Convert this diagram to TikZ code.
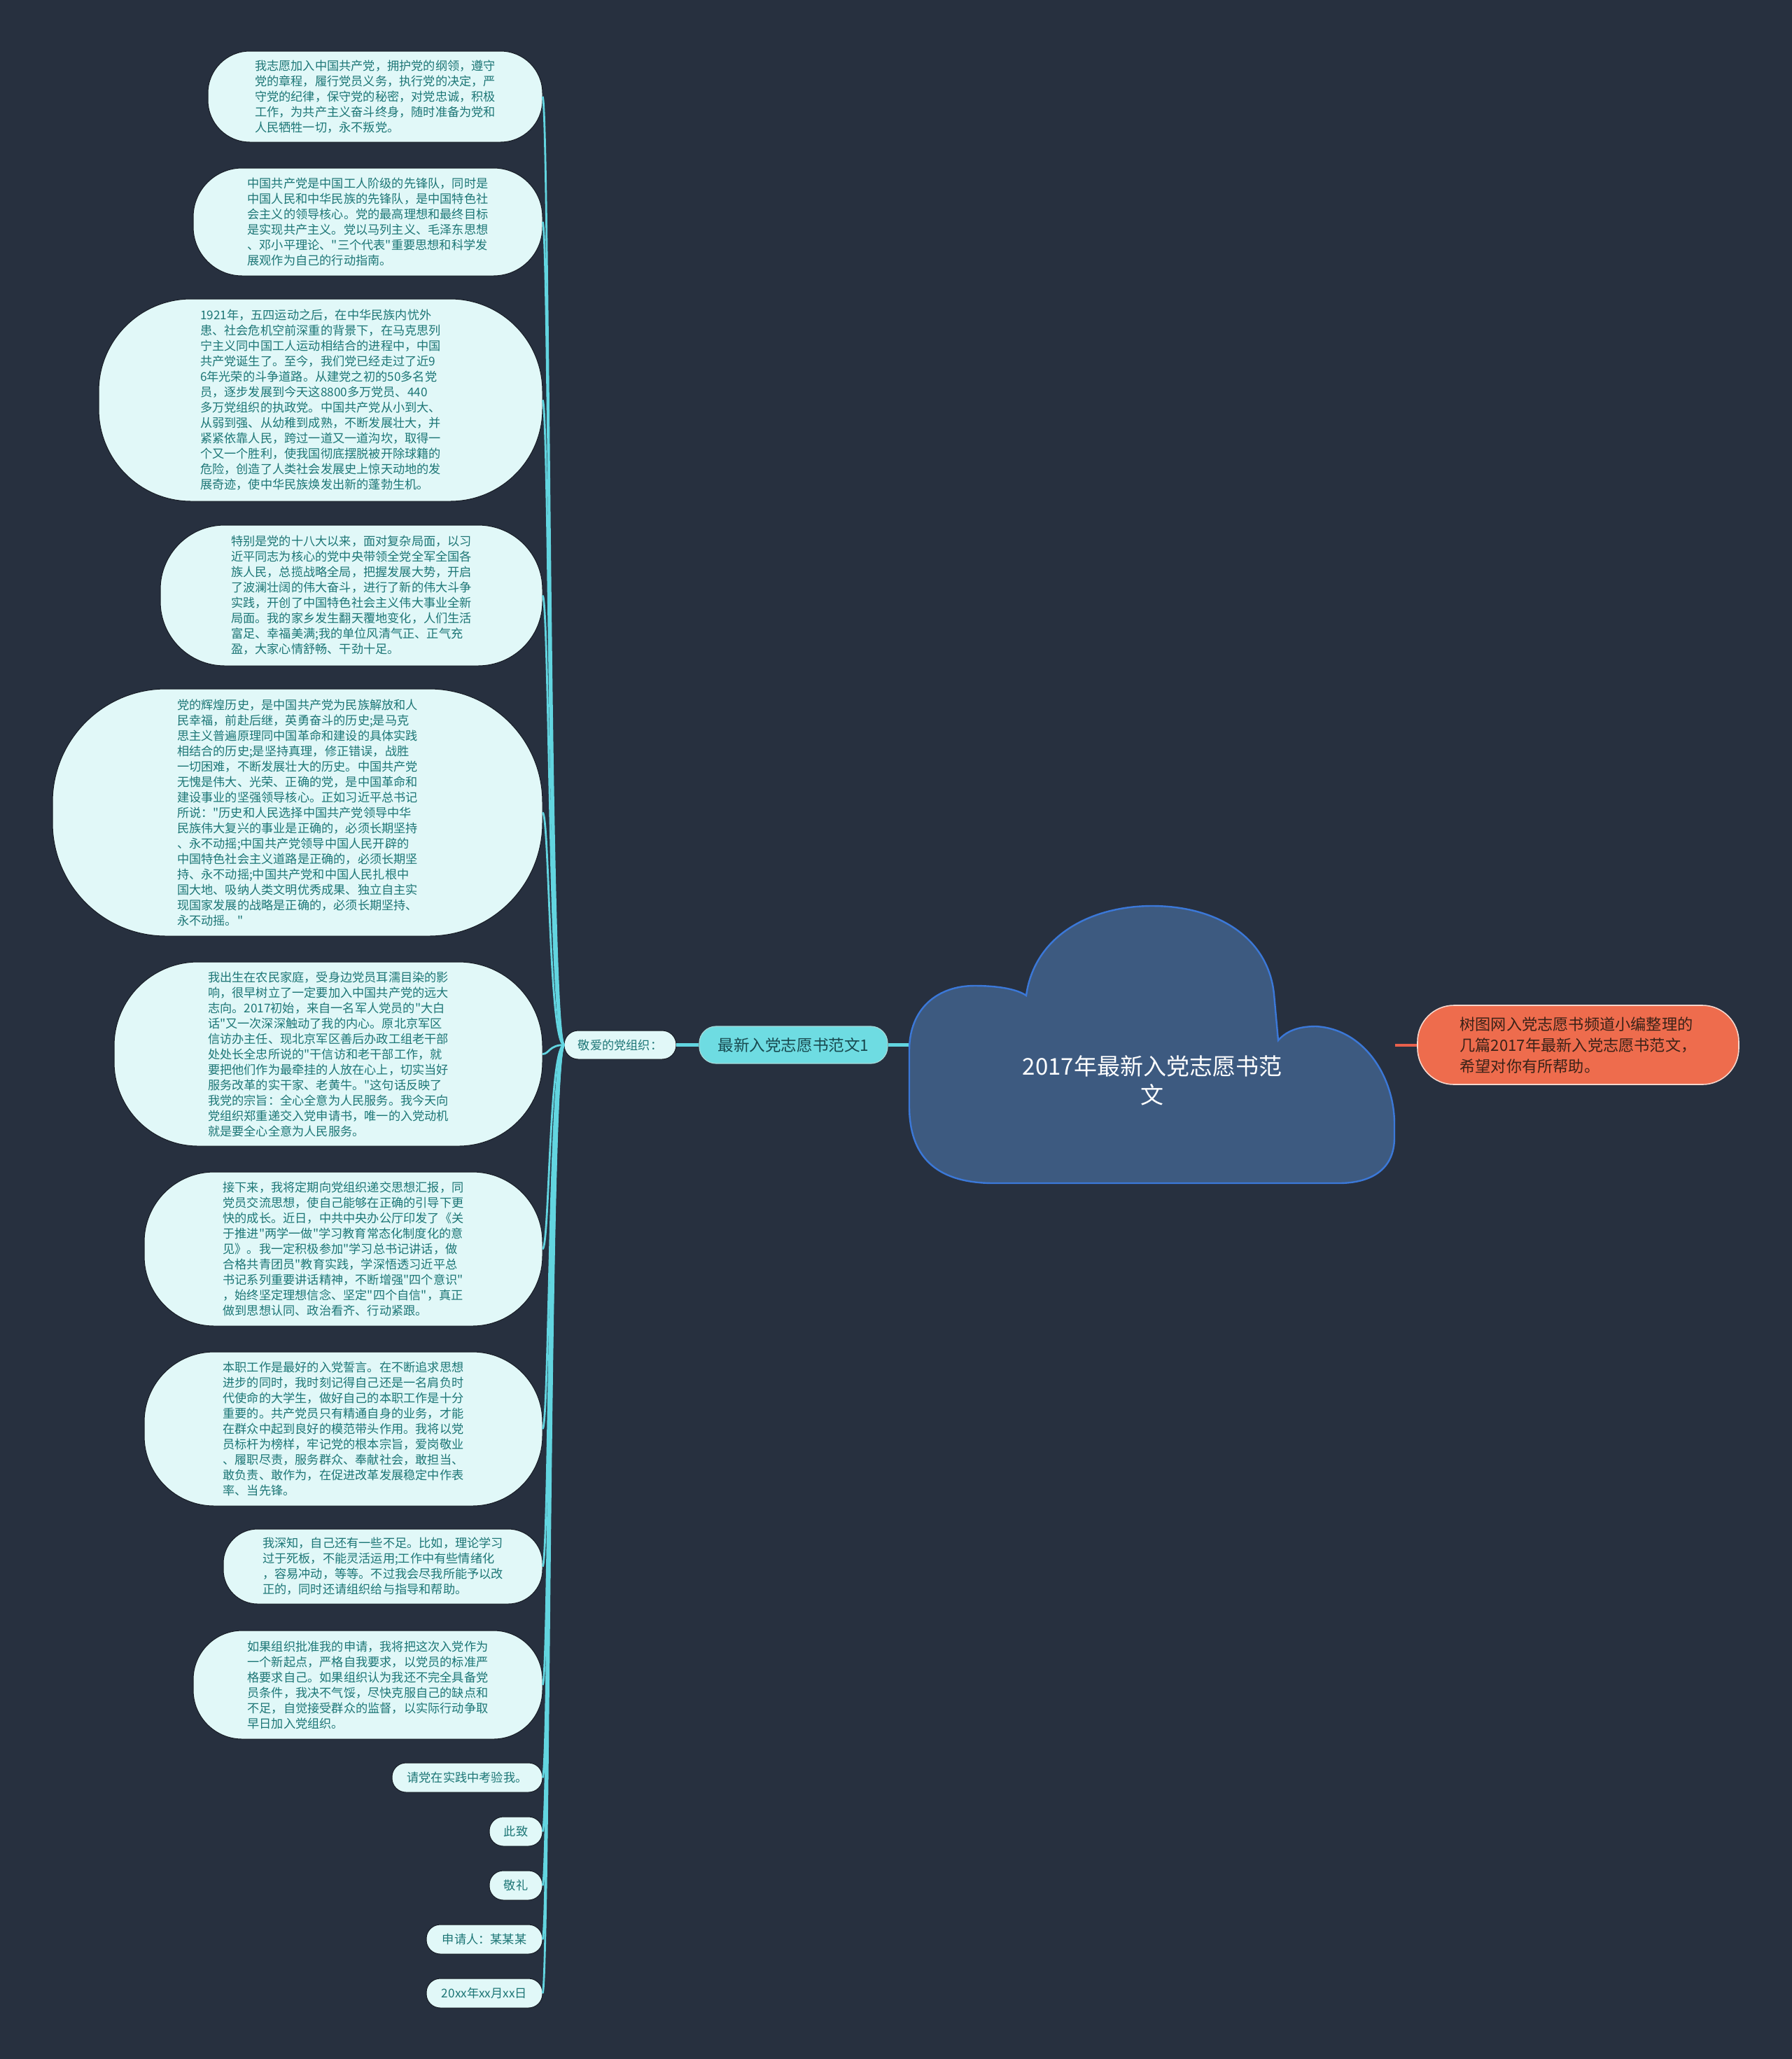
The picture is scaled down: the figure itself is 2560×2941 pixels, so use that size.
\documentclass[tikz,border=0pt]{standalone}
\usepackage{fontspec}
\setmainfont{Noto Sans CJK SC}[Ligatures=TeXOff]
\definecolor{bg}{HTML}{27303F}
\definecolor{leaffill}{HTML}{E1F8F8}
\definecolor{leaftext}{HTML}{1D7676}
\definecolor{leafline}{HTML}{161B24}
\definecolor{conncol}{HTML}{62D5E0}
\definecolor{mainfill}{HTML}{6EDCE2}
\definecolor{maintext}{HTML}{18494F}
\definecolor{cloudfill}{HTML}{3D5A80}
\definecolor{cloudline}{HTML}{3B78D8}
\definecolor{orfill}{HTML}{EE6C4D}
\definecolor{orline}{HTML}{F6D6CC}
\definecolor{ortext}{HTML}{3B2218}
\definecolor{orconn}{HTML}{E8604C}
\newcommand\leaffont{\fontsize{8.6pt}{11pt}\selectfont}
\tikzset{
  leaf/.style={draw=leafline, line width=0.5pt, fill=leaffill, text=leaftext,
    font=\leaffont, align=left, inner sep=0pt, outer sep=0pt, rounded corners=#1},
  conn/.style={draw=conncol, line width=1.4pt},
  thickconn/.style={draw=conncol, line width=2.2pt},
}
\begin{document}
\begin{tikzpicture}[x=0.5pt, y=-0.5pt]
\fill[bg] (0,0) rectangle (2560,2941);
\useasboundingbox (0,0) rectangle (2560,2941);

% cloud (root)
\draw[fill=cloudfill, draw=cloudline, line width=1.2pt]
  (1420,1690) .. controls (1335,1690) and (1299,1650) .. (1299,1580)
  -- (1299,1500)
  .. controls (1299,1440) and (1340,1408) .. (1392,1408)
  .. controls (1430,1408) and (1455,1414) .. (1466,1422)
  .. controls (1478,1335) and (1560,1294) .. (1646,1294)
  .. controls (1740,1294) and (1812,1340) .. (1820,1420)
  -- (1826,1486)
  .. controls (1840,1470) and (1860,1466) .. (1880,1466)
  .. controls (1950,1470) and (1992,1540) .. (1992,1605)
  -- (1992,1625)
  .. controls (1992,1668) and (1962,1690) .. (1912,1690)
  -- cycle;
\node[text=white, align=center, font=\fontsize{16.5pt}{20.5pt}\selectfont] (root) at (1646,1543) {2017年最新入党志愿书范\\文};
\coordinate (cloudL) at (1298,1492.5);
\coordinate (cloudR) at (1993,1492.5);

% right note
\node[draw=orline, line width=0.8pt, fill=orfill, text=ortext, align=left,
  rounded corners=26pt, minimum width=229.5pt, minimum height=56.5pt, inner sep=0pt,
  font=\fontsize{11.1pt}{15pt}\selectfont] (note) at (2254.5,1492.5)
  {树图网入党志愿书频道小编整理的\\几篇2017年最新入党志愿书范文，\\希望对你有所帮助。};
\draw[draw=orconn, line width=2pt] (cloudR) -- (note.west);

% main branch
\node[draw=orline!40!mainfill, line width=0.6pt, fill=mainfill, text=maintext,
  rounded corners=12pt, minimum width=134.5pt, minimum height=26.5pt, inner sep=0pt,
  font=\fontsize{11.3pt}{13pt}\selectfont] (main) at (1133.5,1492.5) {最新入党志愿书范文1};
\draw[thickconn] (cloudL) -- (main.east);

% sub branch
\node[leaf=10pt, minimum width=80pt, minimum height=20.5pt] (p) at (886,1492.5) {敬爱的党组织：};
\draw[thickconn] (main.west) -- (p.east);

% leaves
\node[leaf=30pt, minimum width=239pt, minimum height=65pt] (n1) at (536,138) {我志愿加入中国共产党，拥护党的纲领，遵守\\党的章程，履行党员义务，执行党的决定，严\\守党的纪律，保守党的秘密，对党忠诚，积极\\工作，为共产主义奋斗终身，随时准备为党和\\人民牺牲一切，永不叛党。};
\node[leaf=35pt, minimum width=249.5pt, minimum height=77pt] (n2) at (525.5,317) {中国共产党是中国工人阶级的先锋队，同时是\\中国人民和中华民族的先锋队，是中国特色社\\会主义的领导核心。党的最高理想和最终目标\\是实现共产主义。党以马列主义、毛泽东思想\\、邓小平理论、"三个代表"重要思想和科学发\\展观作为自己的行动指南。};
\node[leaf=66pt, minimum width=317pt, minimum height=144.5pt] (n3) at (458,571.5) {1921年，五四运动之后，在中华民族内忧外\\患、社会危机空前深重的背景下，在马克思列\\宁主义同中国工人运动相结合的进程中，中国\\共产党诞生了。至今，我们党已经走过了近9\\6年光荣的斗争道路。从建党之初的50多名党\\员，逐步发展到今天这8800多万党员、440\\多万党组织的执政党。中国共产党从小到大、\\从弱到强、从幼稚到成熟，不断发展壮大，并\\紧紧依靠人民，跨过一道又一道沟坎，取得一\\个又一个胜利，使我国彻底摆脱被开除球籍的\\危险，创造了人类社会发展史上惊天动地的发\\展奇迹，使中华民族焕发出新的蓬勃生机。};
\node[leaf=46pt, minimum width=273pt, minimum height=100.5pt] (n4) at (502,850.5) {特别是党的十八大以来，面对复杂局面，以习\\近平同志为核心的党中央带领全党全军全国各\\族人民，总揽战略全局，把握发展大势，开启\\了波澜壮阔的伟大奋斗，进行了新的伟大斗争\\实践，开创了中国特色社会主义伟大事业全新\\局面。我的家乡发生翻天覆地变化，人们生活\\富足、幸福美满;我的单位风清气正、正气充\\盈，大家心情舒畅、干劲十足。};
\node[leaf=81pt, minimum width=350pt, minimum height=176.5pt] (n5) at (425,1160.5) {党的辉煌历史，是中国共产党为民族解放和人\\民幸福，前赴后继，英勇奋斗的历史;是马克\\思主义普遍原理同中国革命和建设的具体实践\\相结合的历史;是坚持真理，修正错误，战胜\\一切困难，不断发展壮大的历史。中国共产党\\无愧是伟大、光荣、正确的党，是中国革命和\\建设事业的坚强领导核心。正如习近平总书记\\所说："历史和人民选择中国共产党领导中华\\民族伟大复兴的事业是正确的，必须长期坚持\\、永不动摇;中国共产党领导中国人民开辟的\\中国特色社会主义道路是正确的，必须长期坚\\持、永不动摇;中国共产党和中国人民扎根中\\国大地、吸纳人类文明优秀成果、独立自主实\\现国家发展的战略是正确的，必须长期坚持、\\永不动摇。"};
\node[leaf=60pt, minimum width=306pt, minimum height=131.5pt] (n6) at (469,1505.5) {我出生在农民家庭，受身边党员耳濡目染的影\\响，很早树立了一定要加入中国共产党的远大\\志向。2017初始，来自一名军人党员的"大白\\话"又一次深深触动了我的内心。原北京军区\\信访办主任、现北京军区善后办政工组老干部\\处处长全忠所说的"干信访和老干部工作，就\\要把他们作为最牵挂的人放在心上，切实当好\\服务改革的实干家、老黄牛。"这句话反映了\\我党的宗旨：全心全意为人民服务。我今天向\\党组织郑重递交入党申请书，唯一的入党动机\\就是要全心全意为人民服务。};
\node[leaf=50pt, minimum width=284.5pt, minimum height=110pt] (n7) at (490.5,1784) {接下来，我将定期向党组织递交思想汇报，同\\党员交流思想，使自己能够在正确的引导下更\\快的成长。近日，中共中央办公厅印发了《关\\于推进"两学一做"学习教育常态化制度化的意\\见》。我一定积极参加"学习总书记讲话，做\\合格共青团员"教育实践，学深悟透习近平总\\书记系列重要讲话精神，不断增强"四个意识"\\，始终坚定理想信念、坚定"四个自信"，真正\\做到思想认同、政治看齐、行动紧跟。};
\node[leaf=50pt, minimum width=284.5pt, minimum height=110pt] (n8) at (490.5,2041) {本职工作是最好的入党誓言。在不断追求思想\\进步的同时，我时刻记得自己还是一名肩负时\\代使命的大学生，做好自己的本职工作是十分\\重要的。共产党员只有精通自身的业务，才能\\在群众中起到良好的模范带头作用。我将以党\\员标杆为榜样，牢记党的根本宗旨，爱岗敬业\\、履职尽责，服务群众、奉献社会，敢担当、\\敢负责、敢作为，在促进改革发展稳定中作表\\率、当先锋。};
\node[leaf=24.5pt, minimum width=228pt, minimum height=53.5pt] (n9) at (547,2237.5) {我深知，自己还有一些不足。比如，理论学习\\过于死板，不能灵活运用;工作中有些情绪化\\，容易冲动，等等。不过我会尽我所能予以改\\正的，同时还请组织给与指导和帮助。};
\node[leaf=35pt, minimum width=249.5pt, minimum height=77.5pt] (n10) at (525.5,2406.5) {如果组织批准我的申请，我将把这次入党作为\\一个新起点，严格自我要求，以党员的标准严\\格要求自己。如果组织认为我还不完全具备党\\员条件，我决不气馁，尽快克服自己的缺点和\\不足，自觉接受群众的监督，以实际行动争取\\早日加入党组织。};
\node[leaf=10pt, minimum width=107.5pt, minimum height=21pt] (n11) at (667.5,2539) {请党在实践中考验我。};
\node[leaf=10pt, minimum width=38pt, minimum height=21pt] (n12) at (737,2616) {此致};
\node[leaf=10pt, minimum width=38pt, minimum height=21pt] (n13) at (737,2693) {敬礼};
\node[leaf=10pt, minimum width=83pt, minimum height=21pt] (n14) at (692,2770) {申请人：某某某};
\node[leaf=10pt, minimum width=83pt, minimum height=21pt] (n15) at (692,2847) {20xx年xx月xx日};

\foreach \n in {n1,n2,n3,n4,n5,n6,n7,n8,n9,n10,n11,n12,n13,n14,n15}
  \draw[conn] (p.west) .. controls +(-22,0) and +(10,0) .. (\n.east);
\end{tikzpicture}
\end{document}
